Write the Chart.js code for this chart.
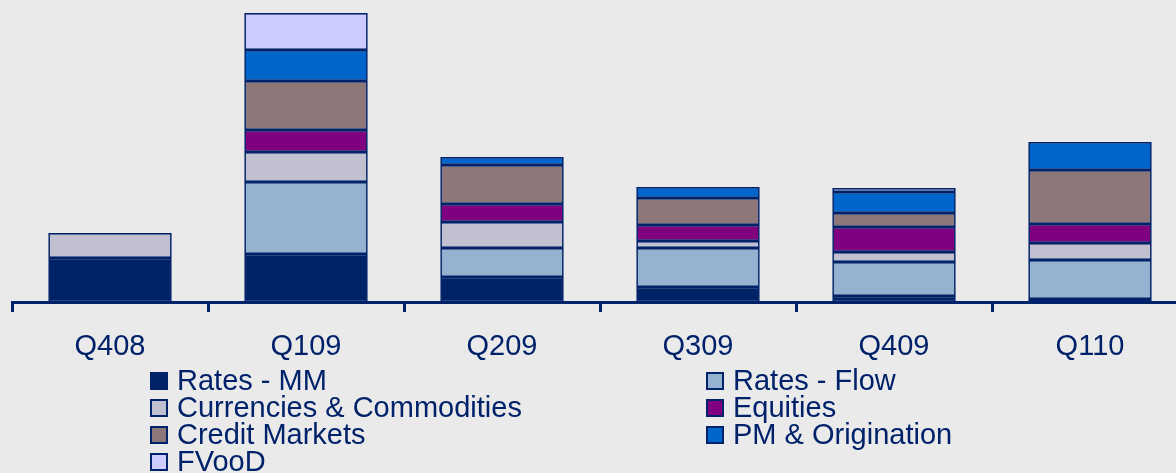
<!DOCTYPE html>
<html>
<head>
<meta charset="utf-8">
<script src="https://cdn.jsdelivr.net/npm/chart.js@4"></script>
<style>
  html, body { margin: 0; padding: 0; background: #eaeaea; overflow: hidden; width: 1176px; height: 473px; }
  #wrap { position: absolute; left: 0; top: 0; width: 1190px; height: 370px; }
  #legend {
    position: absolute; left: 150px; top: 367px;
    display: grid; grid-template-columns: 556px 400px; grid-auto-rows: 27px;
    font-family: "Liberation Sans", Arial, sans-serif; font-size: 29px; color: #00226a;
  }
  .item { display: flex; align-items: center; white-space: nowrap; line-height: 27px; }
  .box { width: 14px; height: 14px; border: 2px solid #00226a; margin-right: 9px; flex: none; }
</style>
</head>
<body>
<div id="wrap"><canvas id="chart"></canvas></div>
<div id="legend"></div>
<script>
// values (arbitrary units, no y axis shown)
const quarters = ['Q408', 'Q109', 'Q209', 'Q309', 'Q409', 'Q110'];

const ratesMM      = [44, 48, 25, 15,  6,  3];
const ratesFlow    = [ 0, 72, 29, 39, 34, 39];
const currComm     = [25, 30, 26,  7, 10, 17];
const equities     = [ 0, 22, 18, 16, 25, 19];
const creditMkts   = [ 0, 49, 39, 27, 14, 54];
const pmOrig       = [ 0, 31,  8, 11, 21, 28];
const fvood        = [ 0, 37,  0,  0,  4,  0];

const NAVY = '#00226a';

const series = [
  { label: 'Rates - MM',                data: ratesMM,    color: '#002266' },
  { label: 'Rates - Flow',              data: ratesFlow,  color: '#95b3d0' },
  { label: 'Currencies & Commodities',  data: currComm,   color: '#c0c0d0' },
  { label: 'Equities',                  data: equities,   color: '#800080' },
  { label: 'Credit Markets',            data: creditMkts, color: '#8c7878' },
  { label: 'PM & Origination',          data: pmOrig,     color: '#0066cc' },
  { label: 'FVooD',                     data: fvood,      color: '#ccccff' },
];

new Chart(document.getElementById('chart'), {
  type: 'bar',
  data: {
    labels: quarters,
    datasets: series.map(s => ({
      label: s.label,
      data: s.data,
      backgroundColor: s.color,
      borderColor: NAVY,
      borderWidth: 1.7,
      borderSkipped: false,
      barPercentage: 0.63,
      categoryPercentage: 1,
    }))
  },
  options: {
    responsive: true,
    maintainAspectRatio: false,
    animation: false,
    layout: { padding: { top: 12, left: 12, right: 2, bottom: 0 } },
    plugins: { legend: { display: false }, tooltip: { enabled: false } },
    scales: {
      x: {
        stacked: true,
        afterFit: s => { s.height = 68; },
        border: { display: true, color: NAVY, width: 3 },
        grid: { display: true, drawOnChartArea: false, drawTicks: true, tickLength: 10, color: NAVY, lineWidth: 3, offset: true },
        ticks: { color: NAVY, padding: 18, font: { family: '"Liberation Sans", Arial, sans-serif', size: 29, lineHeight: 1.2 } },
      },
      y: { stacked: true, display: false, min: 0, max: 290 }
    }
  }
});

// ── Legend (two columns, row-major like the original) ─────────────────────
document.getElementById('legend').innerHTML = series.map(s => `
  <div class="item"><span class="box" style="background:${s.color}"></span>${s.label}</div>`).join('');
</script>
</body>
</html>
